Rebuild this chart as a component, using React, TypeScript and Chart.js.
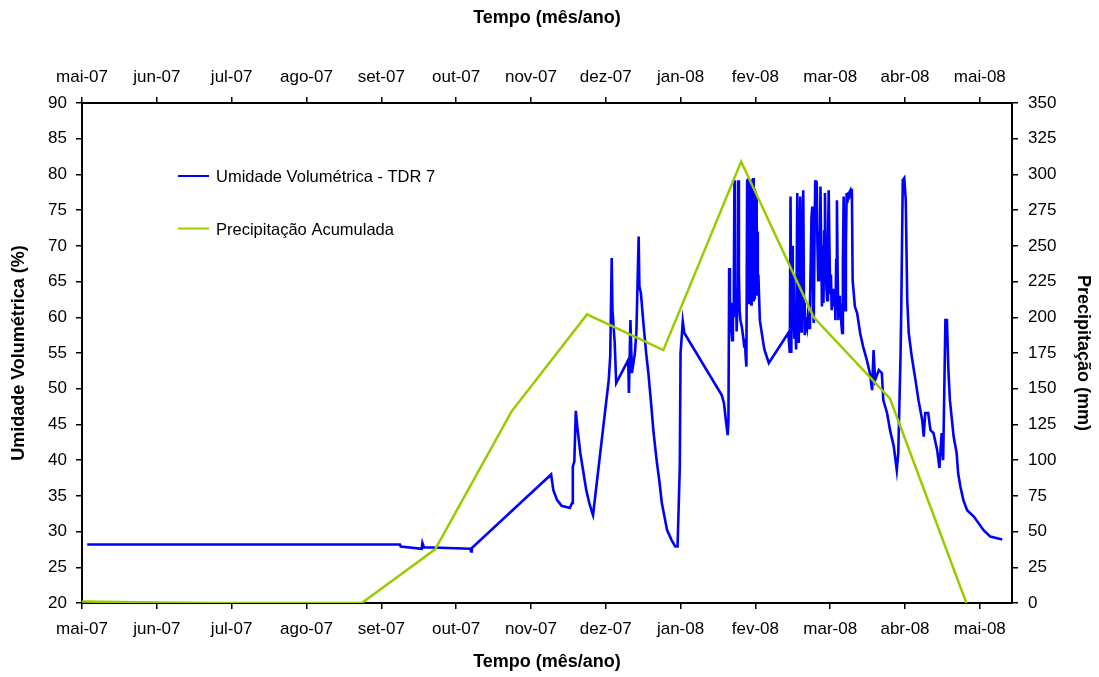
import React, { useEffect, useRef } from "react";
import { Chart, registerables } from "chart.js";

Chart.register(...registerables);

// Month tick labels (x axis positions 0..12 in month units from mai-07)
const monthLabels = [
  "mai-07", "jun-07", "jul-07", "ago-07", "set-07", "out-07", "nov-07",
  "dez-07", "jan-08", "fev-08", "mar-08", "abr-08", "mai-08",
];

// Precipitação acumulada (mm), x in months from mai-07
const precipMonths = [0, 0.75, 1.75, 2.75, 3.74, 4.72, 5.74, 6.75, 7.77, 8.81, 9.78, 10.8, 11.82];
const precipValues = [1, 0.5, 0, 0, 0, 37.6, 134, 202, 177, 309, 200, 143, 0];

// Umidade volumétrica TDR 7 (%), x in months from mai-07
const tdrMonths = [
  0.07, 4.25, 4.26, 4.54, 4.55, 4.57, 5.19, 5.2, 5.21,
  6.27, 6.3, 6.35, 6.41, 6.52, 6.55, 6.56, 6.58, 6.6, 6.62, 6.66, 6.74, 6.78, 6.82, 6.83,
  7.04, 7.06, 7.08, 7.09, 7.12, 7.14, 7.3, 7.31, 7.33, 7.35, 7.39, 7.41, 7.44, 7.45, 7.47,
  7.5, 7.54, 7.57, 7.61, 7.64, 7.68, 7.72, 7.75, 7.82, 7.88, 7.93, 7.96, 7.99, 8.0, 8.03, 8.05,
  8.55, 8.58, 8.61, 8.63, 8.64, 8.65, 8.66, 8.67, 8.68, 8.69, 8.7, 8.71, 8.72, 8.725, 8.73, 8.74,
  8.75, 8.76, 8.77, 8.78, 8.79, 8.8, 8.82, 8.84, 8.85, 8.86, 8.87, 8.88,
  8.89, 8.895, 8.9, 8.905, 8.91, 8.915, 8.92, 8.925, 8.93, 8.935, 8.94, 8.945, 8.95, 8.955,
  8.96, 8.965, 8.97, 8.975, 8.98, 8.985, 8.99, 8.995, 9.0, 9.005, 9.01, 9.015, 9.02, 9.025,
  9.03, 9.035, 9.04,
  9.06, 9.1, 9.12, 9.18,
  9.44, 9.46, 9.47, 9.48, 9.49, 9.5, 9.51, 9.52, 9.53, 9.545, 9.56, 9.57, 9.58, 9.59, 9.6,
  9.61, 9.62, 9.63, 9.64, 9.65, 9.66, 9.67, 9.69, 9.7, 9.72, 9.73, 9.75, 9.76, 9.77, 9.78,
  9.79, 9.8, 9.81, 9.82, 9.83, 9.84, 9.85, 9.86, 9.87, 9.88, 9.89, 9.9, 9.91, 9.92, 9.93,
  9.94, 9.95, 9.96, 9.97, 9.98, 9.99, 10.0, 10.01, 10.02, 10.035, 10.05, 10.06, 10.07, 10.08,
  10.09, 10.1, 10.11, 10.12, 10.13, 10.14, 10.15, 10.16, 10.17, 10.18, 10.19, 10.2, 10.21,
  10.22, 10.23, 10.24, 10.25, 10.26, 10.27, 10.28, 10.29, 10.3, 10.33, 10.36, 10.4,
  10.44, 10.49, 10.53, 10.56, 10.58, 10.6, 10.65, 10.69, 10.71, 10.76, 10.8, 10.85, 10.89, 10.91,
  10.94, 10.95, 10.97, 10.99, 11.01, 11.03, 11.05, 11.09, 11.14, 11.18, 11.23, 11.25, 11.27,
  11.31, 11.34, 11.38, 11.43, 11.46, 11.49, 11.51, 11.54, 11.56, 11.58, 11.6, 11.65, 11.69,
  11.71, 11.74, 11.78, 11.83, 11.92, 12.05, 12.14, 12.3,
];
const tdrValues = [
  28.2, 28.2, 27.9, 27.6, 28.4, 27.8, 27.6, 27.2, 27.7,
  38.0, 35.8, 34.4, 33.6, 33.3, 34.0, 39.1, 39.8, 46.9, 44.7, 41.0, 35.8, 34.0, 32.6, 32.3,
  51.2, 54.5, 68.3, 61.0, 56.4, 50.8, 54.0, 49.4, 59.6, 52.2, 55.0, 58.0, 71.3, 64.3, 63.4,
  59.6, 55.0, 52.2, 47.5, 43.8, 40.0, 36.8, 34.0, 30.2, 28.8, 27.9, 27.9, 39.1, 55.0, 59.4, 57.8,
  49.1, 48.0, 45.2, 43.5, 45.6, 66.9, 60.0, 60.6, 58.0, 56.8, 62.0, 60.0, 79.2, 62.0, 60.6, 64.0,
  58.0, 62.0, 79.2, 66.0, 61.0, 59.6, 58.6, 57.0, 55.9, 57.0, 54.5, 53.1,
  79.2, 63.0, 79.4, 62.0, 79.5, 63.5, 78.6, 62.5, 79.0, 64.0, 78.2, 61.8, 79.3, 63.0,
  79.1, 64.5, 79.5, 62.2, 78.8, 63.8, 78.0, 62.5, 77.6, 64.0, 77.0, 63.0, 74.0, 64.5,
  72.0, 63.4, 66.0,
  59.6, 56.8, 55.5, 53.6,
  57.8, 55.0, 76.9, 55.0, 70.0, 58.0, 66.0, 57.0, 60.0, 55.5, 77.4, 60.0, 56.4, 72.0, 76.9,
  58.0, 60.0, 70.0, 77.8, 62.0, 57.5, 59.6, 58.5, 60.0, 58.5, 62.0, 74.0, 75.5, 62.0, 59.2,
  70.0, 79.2, 78.0, 79.0, 70.0, 65.2, 72.0, 66.0, 78.3, 70.0, 61.5, 66.0, 62.0, 72.0, 77.4,
  68.0, 64.0, 62.4, 70.0, 77.8, 70.0, 63.4, 66.0, 61.0, 64.0, 61.5, 64.0, 59.6, 68.0,
  76.4, 66.0, 59.6, 63.0, 61.0, 62.0, 59.0, 57.8, 68.0, 76.9, 66.0, 61.0, 70.0,
  77.4, 76.0, 77.5, 76.5, 77.6, 77.8, 77.0, 78.0, 65.2, 61.5, 60.6, 57.8,
  55.9, 54.0, 52.2, 49.8, 55.4, 51.2, 52.6, 52.2, 48.4, 46.6, 44.2, 41.9, 38.6, 41.0,
  54.5, 61.0, 79.2, 79.5, 76.4, 62.4, 57.8, 54.5, 51.2, 48.4, 45.6, 43.3, 46.6,
  46.6, 44.2, 43.8, 41.4, 38.9, 43.8, 40.0, 59.6, 59.6, 52.6, 48.4, 43.3, 41.0,
  38.2, 36.3, 34.4, 33.0, 32.1, 30.2, 29.3, 28.9,
];

const seriesLabels = ["Umidade Volumétrica - TDR 7", "Precipitação Acumulada"];
const axisTitleX = "Tempo (mês/ano)";
const axisTitleLeft = "Umidade Volumétrica (%)";
const axisTitleRight = "Precipitação (mm)";

const FONT = '"Liberation Sans", Arial, sans-serif';

const insideLegend = {
  id: "insideLegend",
  afterDraw(chart: any) {
    const { ctx, chartArea } = chart;
    const ds = chart.data.datasets;
    ctx.save();
    ds.forEach((d: any, i: number) => {
      const y = chartArea.top + 73 + i * 52.5;
      ctx.strokeStyle = d.borderColor;
      ctx.lineWidth = 2;
      ctx.beginPath();
      ctx.moveTo(chartArea.left + 96, y);
      ctx.lineTo(chartArea.left + 127, y);
      ctx.stroke();
      ctx.fillStyle = "#000";
      ctx.font = `16.5px ${FONT}`;
      ctx.textBaseline = "middle";
      ctx.textAlign = "left";
      ctx.fillText(d.label, chartArea.left + 134, y + 1.5);
    });
    ctx.restore();
  },
};

const xTicks = (scale: any) => {
  scale.ticks = monthLabels.map((_, i) => ({ value: i }));
};

const axisCommon = {
  border: { display: true, color: "#000", width: 2 },
  grid: {
    display: true,
    drawOnChartArea: false,
    drawTicks: true,
    tickLength: 6,
    color: "#000",
    lineWidth: 1.5,
  },
};

export default function App() {
  const ref = useRef<HTMLCanvasElement | null>(null);

  useEffect(() => {
    if (!ref.current) return;
    const chart = new Chart(ref.current, {
      type: "line",
      data: {
        datasets: [
          {
            label: seriesLabels[0],
            data: tdrMonths.map((m, i) => ({ x: m, y: tdrValues[i] })),
            borderColor: "#0000FF",
            borderWidth: 2.6,
            pointRadius: 0,
            tension: 0,
            yAxisID: "y",
            xAxisID: "x",
            order: 1,
          },
          {
            label: seriesLabels[1],
            data: precipMonths.map((m, i) => ({ x: m, y: precipValues[i] })),
            borderColor: "#99CC00",
            borderWidth: 2.5,
            pointRadius: 0,
            tension: 0,
            yAxisID: "y2",
            xAxisID: "x",
            order: 0,
          },
        ],
      },
      options: {
        animation: false,
        responsive: false,
        devicePixelRatio: 1,
        layout: { padding: 0 },
        plugins: {
          legend: { display: false },
          tooltip: { enabled: false },
        },
        scales: {
          x: {
            type: "linear",
            position: "bottom",
            min: 0,
            max: 12.43,
            afterBuildTicks: xTicks,
            afterFit: (s: any) => { s.height = 74; },
            ...axisCommon,
            ticks: {
              color: "#000",
              font: { family: FONT, size: 17 },
              padding: 10,
              maxRotation: 0,
              autoSkip: false,
              callback: (v: any) => monthLabels[Math.round(v)] ?? "",
            },
            title: {
              display: true,
              text: axisTitleX,
              color: "#000",
              font: { family: FONT, size: 18, weight: "bold" },
              padding: { top: 0, bottom: 4 },
            },
          },
          x2: {
            type: "linear",
            position: "top",
            min: 0,
            max: 12.43,
            afterBuildTicks: xTicks,
            afterFit: (s: any) => { s.height = 103; },
            ...axisCommon,
            ticks: {
              color: "#000",
              font: { family: FONT, size: 17 },
              padding: 9,
              maxRotation: 0,
              autoSkip: false,
              callback: (v: any) => monthLabels[Math.round(v)] ?? "",
            },
            title: {
              display: true,
              text: axisTitleX,
              color: "#000",
              font: { family: FONT, size: 18, weight: "bold" },
              padding: { top: 7, bottom: 0 },
            },
          },
          y: {
            type: "linear",
            position: "left",
            min: 20,
            max: 90,
            afterFit: (s: any) => { s.width = 82; },
            ...axisCommon,
            ticks: {
              stepSize: 5,
              color: "#000",
              font: { family: FONT, size: 17 },
              padding: 9,
            },
            title: {
              display: true,
              text: axisTitleLeft,
              color: "#000",
              font: { family: FONT, size: 18, weight: "bold" },
              padding: { top: 8, bottom: 0 },
            },
          },
          y2: {
            type: "linear",
            position: "right",
            min: 0,
            max: 350,
            afterFit: (s: any) => { s.width = 87; },
            ...axisCommon,
            ticks: {
              stepSize: 25,
              color: "#000",
              font: { family: FONT, size: 17 },
              padding: 10,
            },
            title: {
              display: true,
              text: axisTitleRight,
              color: "#000",
              font: { family: FONT, size: 18, weight: "bold" },
              padding: { top: 5, bottom: 0 },
            },
          },
        },
      } as any,
      plugins: [insideLegend],
    });
    return () => chart.destroy();
  }, []);

  return (
    <div style={{ position: "fixed", left: 0, top: 0, width: 1099, height: 677, background: "#fff" }}>
      <canvas ref={ref} width={1099} height={677} style={{ display: "block" }} />
    </div>
  );
}
